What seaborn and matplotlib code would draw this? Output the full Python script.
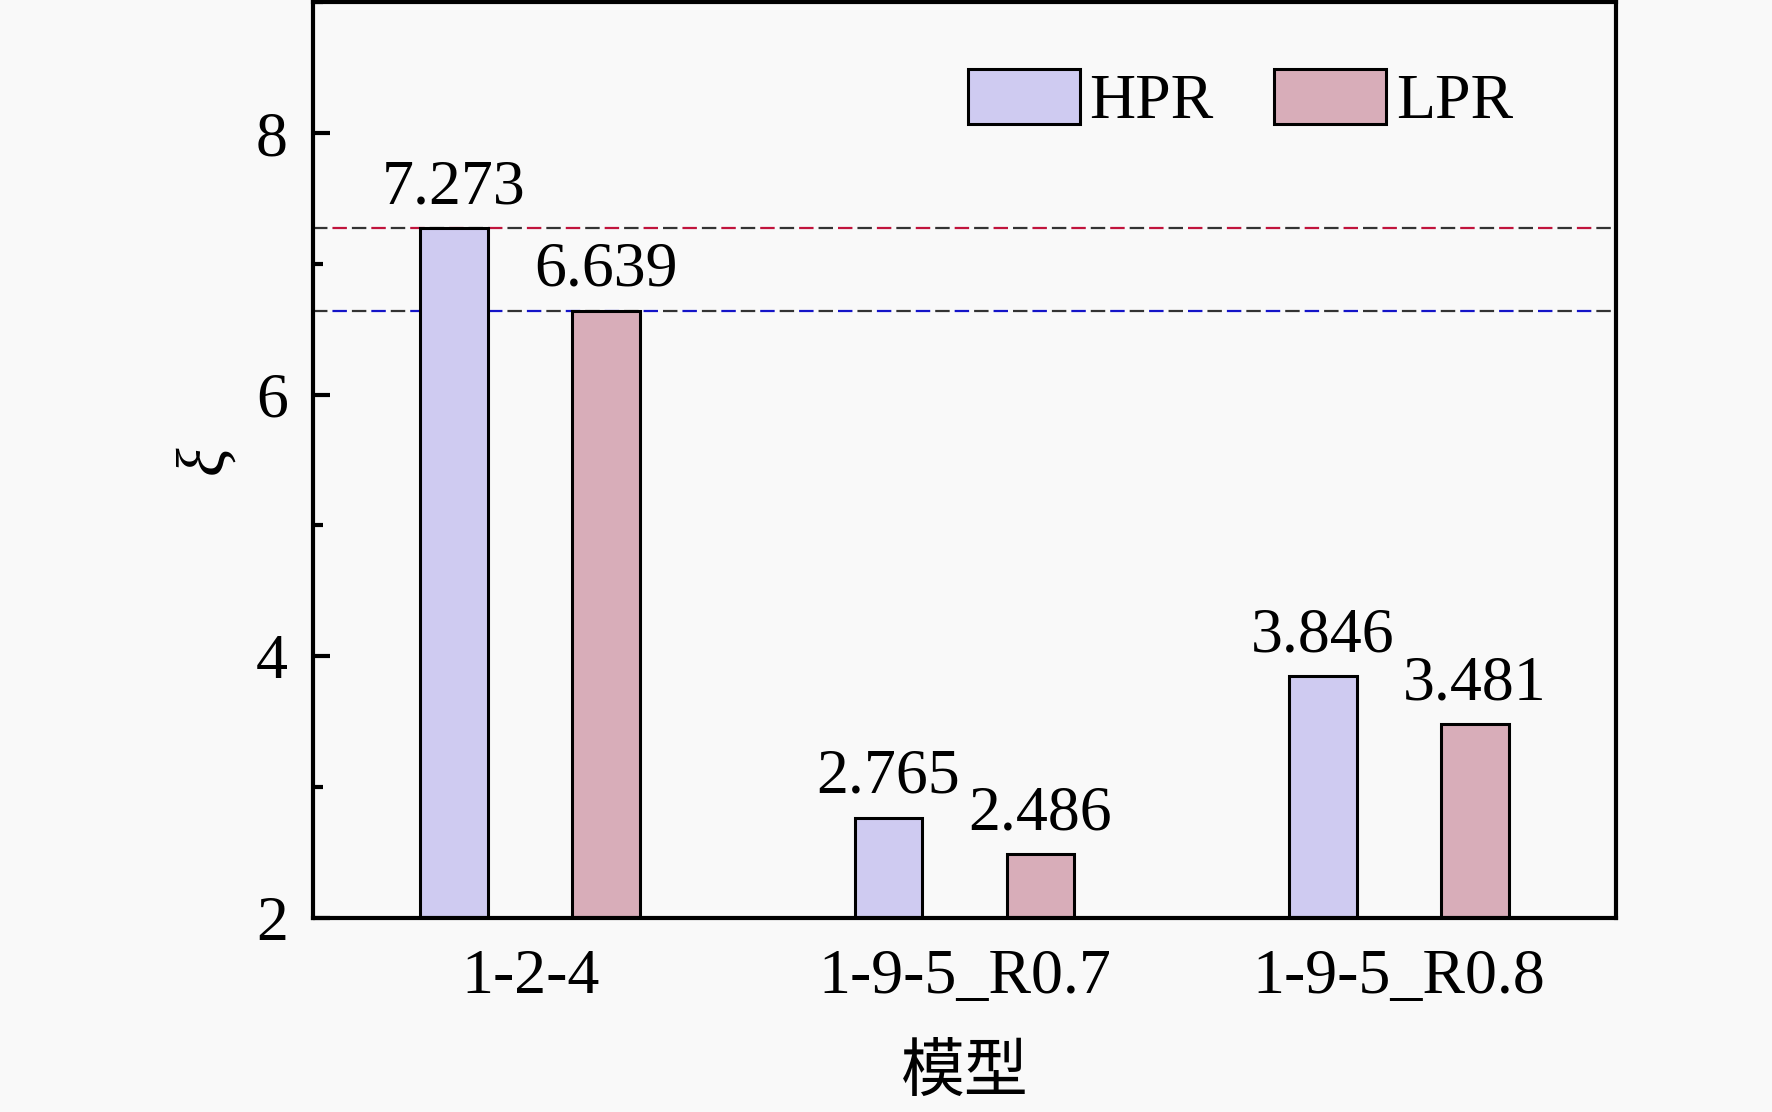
import pandas as pd
import matplotlib.pyplot as plt
import seaborn as sns
from matplotlib.ticker import MultipleLocator

# values
models = ["1-2-4", "1-9-5_R0.7", "1-9-5_R0.8"]
hpr = [7.273, 2.765, 3.846]
lpr = [6.639, 2.486, 3.481]
series = ["HPR", "LPR"]
ref_lines = [7.273, 6.639]

df = pd.DataFrame({
    "模型": models * 2,
    "xi": hpr + lpr,
    "kind": ["HPR"] * 3 + ["LPR"] * 3,
})

sns.set_style("ticks")
plt.rcParams["font.family"] = ["Liberation Serif", "Noto Sans CJK SC"]
plt.rcParams["text.color"] = "black"
plt.rcParams["xtick.color"] = "black"
plt.rcParams["ytick.color"] = "black"
plt.rcParams["axes.labelcolor"] = "black"

bg = "#f9f9f9"
fig = plt.figure(figsize=(17.72, 11.12), dpi=100, facecolor=bg)
ax = fig.add_axes([0.1766, 0.1745, 0.7354, 0.8235], facecolor=bg)

# reference lines, two-tone dashes (black + colour)
for y, c in zip(ref_lines, ["#c0143c", "#1414c8"]):
    ax.axhline(y, color="#333333", lw=1.6, linestyle=(0, (6.5, 11.0)), zorder=1)
    ax.axhline(y, color=c, lw=1.6, linestyle=(8.75, (6.5, 11.0)), zorder=1)

sns.barplot(
    data=df,
    x="模型",
    y="xi",
    hue="kind",
    hue_order=series,
    palette=["#cfcbf1", "#d8adb9"],
    width=0.7,
    gap=0.555,
    edgecolor="black",
    linewidth=2.2,
    saturation=1,
    ax=ax,
    zorder=2,
)

for cont in ax.containers:
    ax.bar_label(cont, fmt="%.3f", padding=8, fontsize=46, color="black")

ax.set_xlim(-0.5, 2.5)
ax.set_ylim(2, 9)
ax.yaxis.set_major_locator(MultipleLocator(2))
ax.yaxis.set_minor_locator(MultipleLocator(1))
ax.tick_params(axis="y", which="major", direction="in", length=12, width=3,
               labelsize=46, pad=18)
ax.tick_params(axis="y", which="minor", direction="in", length=7, width=3)
ax.tick_params(axis="x", length=0, labelsize=46, pad=22)

for s in ax.spines.values():
    s.set_linewidth(3)
    s.set_color("black")

ax.set_xlabel("模型", fontsize=46, family=["Noto Sans CJK SC"], labelpad=24)
ax.set_ylabel("ξ", fontsize=48, style="italic", labelpad=14)

leg = ax.legend(
    loc="upper right",
    bbox_to_anchor=(0.965, 0.99),
    ncol=2,
    frameon=False,
    fontsize=46,
    handlelength=1.75,
    handleheight=0.95,
    handletextpad=0.15,
    columnspacing=0.95,
)
for t in leg.get_texts():
    t.set_color("black")

fig.savefig("out.png", dpi=100, facecolor=bg)
